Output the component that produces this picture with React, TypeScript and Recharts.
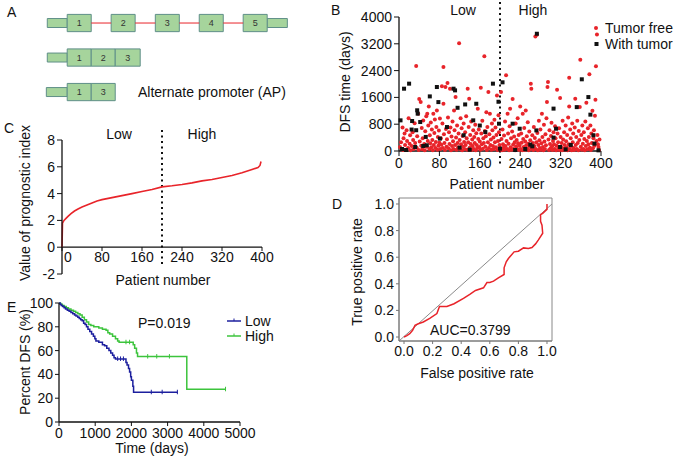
import React from 'react'
import {
  ComposedChart,
  ScatterChart,
  Scatter,
  Line,
  XAxis,
  YAxis,
  ReferenceLine,
  ReferenceArea,
} from 'recharts'

const FONT = '"Liberation Sans", Arial, sans-serif'
const RED = '#e8242a'
const INK = '#111'
const FS = 14

// ---- panel A: transcript structures (exon units) ----
const fullExons = [
  { label: '1', start: 0, end: 1 },
  { label: '2', start: 1.83, end: 2.83 },
  { label: '3', start: 3.67, end: 4.67 },
  { label: '4', start: 5.5, end: 6.5 },
  { label: '5', start: 7.33, end: 8.33 },
]
const shortExons = [
  { label: '1', start: 0, end: 1 },
  { label: '2', start: 1, end: 2 },
  { label: '3', start: 2, end: 3.04 },
]
const apExons = [
  { label: '1', start: 0, end: 1 },
  { label: '3', start: 1, end: 2 },
]
const utrs = [
  { row: 0, start: -0.83, end: 0 },
  { row: 0, start: 8.33, end: 9.17 },
  { row: 1, start: -0.83, end: 0 },
  { row: 2, start: -0.87, end: 0 },
]

// ---- panel B: DFS time per patient ----
const tumorFree: [number, number][] = [
  [2,120],[4,260],[5,60],[7,700],[8,30],[9,380],[11,520],[12,180],[14,40],[15,620],[16,300],[18,90],[19,980],[21,220],[22,470],[23,20],[25,150],[27,560],[28,330],[29,60],[31,830],[32,240],[34,2540],[35,100],[36,440],[38,1110],[39,30],[40,1550],[41,280],[43,1460],[44,160],[45,690],
  [46,50],[47,380],[48,910],[50,210],[51,20],[52,590],[54,1040],[55,130],[56,1110],[57,300],[58,760],[59,1330],[60,60],[61,470],[62,230],[63,850],[64,110],[65,640],[66,330],[67,20],[68,1110],[69,180],[70,540],[71,940],[72,90],[73,270],[74,720],[75,1210],[76,40],[77,420],[78,160],[79,610],[80,250],
  [81,970],[82,60],[83,380],[84,190],[85,1930],[86,820],[87,90],[88,2510],[88,1410],[89,500],[90,240],[91,30],[92,1910],[93,660],[94,130],[95,350],[96,2030],[97,1000],[98,80],[99,560],[100,210],[101,1860],[102,700],[103,20],[104,430],[105,150],[106,880],[107,290],[108,60],[109,1210],[110,620],[111,180],[112,1610],[113,400],[114,40],[115,760],[116,240],[117,110],[118,520],[119,3220],[120,330],
  [121,60],[122,980],[123,200],[124,680],[125,20],[126,450],[127,130],[128,820],[129,270],[130,60],[131,560],[132,180],[133,1040],[134,380],[135,40],[136,1860],[137,260],[138,720],[139,1560],[140,100],[141,480],[142,210],[143,880],[144,30],[145,340],[146,150],[147,620],[148,60],[149,420],[150,240],[151,780],[152,20],[153,530],[154,180],[155,90],[156,1260],[157,360],[158,640],[159,120],[160,280],
  [161,40],[162,1890],[163,520],[164,200],[165,900],[166,70],[167,380],[168,240],[169,2830],[170,600],[171,130],[172,440],[173,1160],[174,30],[175,720],[176,260],[177,1760],[178,90],[179,500],[180,1110],[181,180],[182,340],[183,40],[184,820],[185,620],[186,150],[187,400],[188,60],[189,935],[190,260],[191,700],[192,110],[193,480],[194,1660],[195,30],[196,300],[197,1065],[198,560],[199,180],
  [201,80],[202,1760],[203,360],[204,20],[205,640],[206,200],[207,100],[208,460],[209,40],[210,880],[211,150],[212,2260],[213,300],[214,60],[215,1110],[216,520],[217,220],[218,20],[219,740],[220,1260],[221,110],[222,380],[223,40],[224,580],[225,1550],[226,190],[227,60],[228,430],[229,260],[230,20],[231,820],[232,140],[233,330],[234,60],[235,980],[236,230],[237,480],[238,30],[239,160],[240,1330],
  [241,60],[242,520],[243,250],[244,20],[245,1110],[246,360],[247,120],[248,690],[249,40],[250,280],[251,1210],[252,170],[253,440],[254,60],[255,860],[256,220],[257,20],[258,580],[259,130],[260,320],[261,2010],[262,1860],[263,70],[264,470],[265,240],[266,30],[267,720],[268,150],[269,390],[270,3420],[271,60],[272,260],[273,3470],[274,540],[275,20],[276,180],[277,900],[278,320],[279,90],[280,640],
  [281,40],[282,230],[283,1110],[284,420],[285,120],[286,20],[287,780],[288,280],[289,60],[290,500],[291,170],[292,980],[293,1460],[294,1910],[295,2060],[296,340],[297,30],[298,620],[299,210],[300,80],[301,450],[302,840],[303,140],[304,30],[305,300],[306,560],[307,200],[308,60],[309,740],[310,380],[311,20],[312,160],[313,1830],[314,520],[315,260],[316,90],[317,680],[318,30],[319,1580],[320,420],
  [321,120],[322,240],[323,20],[324,900],[325,340],[326,70],[327,560],[328,180],[329,40],[330,760],[331,290],[332,110],[333,480],[334,20],[335,1000],[336,200],[337,2190],[337,1330],[338,60],[339,640],[340,380],[341,150],[342,20],[343,820],[344,260],[345,520],[346,90],[347,30],[348,700],[349,1560],[350,180],[351,420],[352,60],[353,900],[354,240],[355,20],[356,600],[357,330],[358,1310],[359,2725],[360,130],
  [361,480],[362,40],[363,760],[364,220],[365,60],[366,560],[367,360],[368,20],[369,880],[370,150],[371,1440],[372,300],[373,50],[374,680],[375,200],[376,420],[377,2290],[378,100],[379,760],[380,30],[381,520],[382,240],[383,1200],[384,80],[385,380],[386,620],[387,160],[388,1050],[389,1530],[390,2530],[391,300],[392,3480],[393,480],[394,200],[395,120],[396,30],[397,340],
]
const withTumor: [number, number][] = [
  [3,915],[6,60],[10,1860],[14,30],[20,2010],[25,640],[26,895],[32,120],[34,620],[36,1215],[37,1115],[42,865],[48,150],[53,420],[55,170],[61,1630],[75,1910],[78,1460],[81,370],[95,715],[108,1860],[111,1810],[116,1290],[120,100],[128,470],[131,1390],[140,40],[147,915],[153,1410],[160,760],[171,565],[186,2010],[197,1470],[198,815],[200,70],[205,2050],[225,815],[230,30],[239,665],[250,60],[260,190],[264,140],[272,615],[273,3500],[306,1265],[306,400],[311,665],[319,120],[330,50],[340,180],[352,1310],[362,2140],[375,1610],[379,1085],[385,470],[387,220],[395,20],
]
const patientTicks = [0, 80, 160, 240, 320, 400]
const dfsTicks = [0, 800, 1600, 2400, 3200, 4000]

// ---- panel C: sorted prognostic index ----
const indexCurve: [number, number][] = [
  [0,0],[1,1.8],[4,2.0],[8,2.15],[12,2.3],[18,2.5],[25,2.7],[32,2.85],[40,3.0],[50,3.15],[60,3.3],[70,3.45],[80,3.55],[100,3.7],[120,3.85],[140,4.0],[160,4.15],[180,4.3],[200,4.5],[220,4.58],[240,4.68],[260,4.8],[280,4.95],[300,5.05],[320,5.2],[340,5.35],[360,5.55],[380,5.8],[392,5.95],[396,6.1],[398,6.4],
]
const indexTicks = [-2, 0, 2, 4, 6, 8]

// ---- panel D: ROC curve ----
const roc: [number, number][] = [
  [0,0],[0.02,0.01],[0.04,0.025],[0.06,0.05],[0.077,0.088],[0.1,0.1],[0.135,0.113],[0.18,0.14],[0.23,0.176],[0.248,0.23],[0.26,0.23],[0.3,0.23],[0.35,0.25],[0.416,0.29],[0.46,0.32],[0.5,0.35],[0.556,0.37],[0.58,0.41],[0.6,0.41],[0.626,0.42],[0.66,0.445],[0.7,0.47],[0.7,0.52],[0.715,0.565],[0.73,0.59],[0.77,0.64],[0.8,0.645],[0.836,0.67],[0.87,0.665],[0.895,0.673],[0.92,0.7],[0.94,0.73],[0.97,0.78],[0.965,0.84],[0.955,0.87],[0.955,0.92],[0.97,0.93],[0.99,0.95],[1.0,0.96],[1.0,1.0],
]
const rateTicks = [0, 0.2, 0.4, 0.6, 0.8, 1.0]

// ---- panel E: Kaplan-Meier DFS ----
const lowKM: [number, number][] = [
  [0,100],[30,99],[60,98],[100,97],[140,96],[180,95],[230,94],[280,93],[330,92],[380,91],[430,90],[470,89],[520,88],[560,87],[600,86],[640,85],[680,83],[720,82],[760,80],[800,78],[850,76],[900,74],[950,72],[990,70],[1020,68],[1100,67],[1200,65],[1260,64],[1320,62],[1380,60],[1430,58],[1480,56],[1520,54],[1560,53],[1850,50],[1880,48],[1920,45],[1950,42],[1980,38],[2000,35],[2040,30],[2060,25],[3280,25],
]
const highKM: [number, number][] = [
  [0,100],[40,99],[90,98],[140,97],[200,96],[260,95],[330,94],[400,93],[460,92],[520,91],[580,90],[640,88],[700,86],[760,84],[820,82],[880,81],[960,80],[1100,79],[1200,78],[1300,77],[1350,75],[1400,74],[1480,72],[1560,70],[1620,68],[1660,67],[2050,65],[2090,62],[2140,58],[2170,55],[3530,27.5],[4610,27.5],
]
const lowCensored: [number, number][] = [[1620,53],[1700,53],[1780,53],[2550,25],[2850,25],[3270,25]]
const highCensored: [number, number][] = [[1850,67],[1950,67],[2450,55],[2700,55],[3050,55],[4600,27.5]]
const timeTicks = [0, 1000, 2000, 3000, 4000, 5000]
const pctTicks = [0, 20, 40, 60, 80, 100]

const BLUE = '#1c1f9e'
const GREEN = '#3cc43c'

const tickStyle = { fill: INK, fontSize: FS, fontFamily: FONT }
const axisLine = { stroke: INK, strokeWidth: 1.3 }

const Text = ({ x, y, children, anchor = 'left' }: any) => (
  <div
    style={{
      position: 'absolute',
      left: x,
      top: y,
      transform: anchor === 'center' ? 'translate(-50%,-50%)' : 'translateY(-50%)',
      fontSize: FS,
      whiteSpace: 'nowrap',
      lineHeight: 1,
      color: INK,
    }}
  >
    {children}
  </div>
)

const VText = ({ x, y, children }: any) => (
  <div
    style={{
      position: 'absolute',
      left: x,
      top: y,
      transform: 'translate(-50%,-50%) rotate(-90deg)',
      fontSize: FS,
      whiteSpace: 'nowrap',
      lineHeight: 1,
      color: INK,
    }}
  >
    {children}
  </div>
)

const Box = ({ left, top, children }: any) => (
  <div style={{ position: 'absolute', left, top }}>{children}</div>
)

const Nothing = () => <g />

const PanelA = () => {
  const rows = [fullExons, shortExons, apExons]
  const centers = rows.flatMap((row, r) => row.map((e) => ({ x: (e.start + e.end) / 2, y: r })))
  const introns = fullExons.slice(1).map((e, i) => [fullExons[i].end, e.start])
  return (
    <ComposedChart width={320} height={110} data={centers} margin={{ top: 0, right: 0, bottom: 0, left: 0 }}>
      <XAxis type="number" dataKey="x" domain={[-2.8, 10.53]} hide />
      <YAxis type="number" dataKey="y" domain={[-0.667, 2.52]} reversed hide />
      {introns.map(([a, b], i) => (
        <ReferenceLine key={`in${i}`} segment={[{ x: a, y: 0 }, { x: b, y: 0 }]} stroke={RED} strokeWidth={1} />
      ))}
      {utrs.map((u, i) => (
        <ReferenceArea key={`u${i}`} x1={u.start} x2={u.end} y1={u.row - 0.13} y2={u.row + 0.13}
          fill="#a6d49c" fillOpacity={1} stroke="#5f8f88" strokeWidth={1} />
      ))}
      {rows.flatMap((row, r) =>
        row.map((e, i) => (
          <ReferenceArea key={`e${r}-${i}`} x1={e.start} x2={e.end} y1={r - 0.25} y2={r + 0.25}
            fill="#a6d49c" fillOpacity={1} stroke="#5f8f88" strokeWidth={1}
            label={{ value: e.label, position: 'center', fontSize: 9, fill: '#333', fontFamily: FONT }} />
        )),
      )}
      <Scatter dataKey="y" isAnimationActive={false} shape={Nothing} />
    </ComposedChart>
  )
}

const RedDot = (p: any) => <circle cx={p.cx} cy={p.cy} r={2} fill={RED} />
const BlackSquare = (p: any) => <rect x={p.cx - 2} y={p.cy - 2} width={4} height={4} fill={INK} />

const PanelB = () => {
  const free = tumorFree.map(([p, d]) => ({ p, d }))
  const tumor = withTumor.map(([p, d]) => ({ p, d }))
  return (
    <ScatterChart width={300} height={200} margin={{ top: 17, right: 29, bottom: 29, left: 9 }}>
      <XAxis type="number" dataKey="p" domain={[0, 400]} ticks={patientTicks} interval={0} height={20}
        tickSize={5} tickMargin={2} stroke={INK} axisLine={axisLine} tick={tickStyle} />
      <YAxis type="number" dataKey="d" domain={[0, 4000]} ticks={dfsTicks} interval={0} width={60}
        tickSize={5} tickMargin={2} stroke={INK} axisLine={axisLine} tick={tickStyle} />
      <ReferenceLine segment={[{ x: 200, y: 4450 }, { x: 200, y: -480 }]} ifOverflow="visible"
        stroke={INK} strokeWidth={2} strokeDasharray="2 3.5" />
      <Scatter name="Tumor free" data={free} shape={RedDot} isAnimationActive={false} />
      <Scatter name="With tumor" data={tumor} shape={BlackSquare} isAnimationActive={false} />
    </ScatterChart>
  )
}

// panel C's x axis crosses y at 0 instead of at the bottom
const CROSS = 27
const CrossTick = (props: any) => {
  const { x, y, payload } = props
  const top = y - CROSS
  return (
    <g>
      <line x1={x} x2={x} y1={top} y2={top + 4} stroke={INK} />
      <text x={payload.value === 0 ? x + 6 : x} y={top + 5} dy="0.71em" textAnchor="middle"
        fontSize={FS} fill={INK} fontFamily={FONT}>
        {payload.value}
      </text>
    </g>
  )
}

const PanelC = () => {
  const data = indexCurve.map(([p, v]) => ({ p, v }))
  return (
    <ComposedChart width={300} height={190} data={data} margin={{ top: 30, right: 38, bottom: 6, left: 12 }}>
      <XAxis type="number" dataKey="p" domain={[0, 400]} ticks={patientTicks} interval={0} height={20}
        axisLine={false} tickLine={false} tickSize={0} tickMargin={0} tick={CrossTick} />
      <YAxis type="number" dataKey="v" domain={[-2, 8]} ticks={indexTicks} interval={0} width={50}
        tickSize={5} tickMargin={2} stroke={INK} axisLine={axisLine} tick={tickStyle} />
      <ReferenceLine y={0} stroke={INK} strokeWidth={1.3} />
      <ReferenceLine segment={[{ x: 200, y: 8.75 }, { x: 200, y: -1.5 }]} ifOverflow="visible"
        stroke={INK} strokeWidth={2} strokeDasharray="2 3.5" />
      <Line dataKey="v" stroke={RED} strokeWidth={1.6} dot={false} isAnimationActive={false} />
    </ComposedChart>
  )
}

const PanelD = () => {
  const data = roc.map(([fpr, tpr]) => ({ fpr, tpr }))
  return (
    <ComposedChart width={250} height={200} data={data} margin={{ top: 8, right: 28, bottom: 29, left: 14 }}>
      <XAxis type="number" dataKey="fpr" domain={[-0.035, 1.035]} ticks={rateTicks} interval={0} height={20}
        tickFormatter={(v: number) => v.toFixed(1)} tickSize={3} tickMargin={2} stroke="#777" tick={tickStyle} />
      <YAxis type="number" dataKey="tpr" domain={[-0.03, 1.045]} ticks={rateTicks} interval={0} width={55}
        tickFormatter={(v: number) => v.toFixed(1)} tickSize={3} tickMargin={2} stroke="#777" tick={tickStyle} />
      <ReferenceArea x1={-0.035} x2={1.035} y1={-0.03} y2={1.045} fill="none" stroke="#888" strokeWidth={1} />
      <ReferenceLine segment={[{ x: -0.035, y: -0.03 }, { x: 1.035, y: 1.0 }]} stroke="#8a8a8a" strokeWidth={1} />
      <Line dataKey="tpr" stroke={RED} strokeWidth={1.5} dot={false} isAnimationActive={false} />
    </ComposedChart>
  )
}

const CensorTick = (p: any) => (
  <line x1={p.cx} x2={p.cx} y1={p.cy - 2.5} y2={p.cy + 2} stroke={p.fill} strokeWidth={1} />
)

const PanelE = () => {
  const low = lowKM.map(([t, s]) => ({ t, s }))
  const high = highKM.map(([t, s]) => ({ t, s }))
  const lowC = lowCensored.map(([t, s]) => ({ t, s }))
  const highC = highCensored.map(([t, s]) => ({ t, s }))
  return (
    <ComposedChart width={300} height={170} margin={{ top: 13, right: 60, bottom: 18, left: 9 }}>
      <XAxis type="number" dataKey="t" domain={[0, 5000]} ticks={timeTicks} interval={0} height={20}
        tickSize={4} tickMargin={2} stroke={INK} axisLine={axisLine} tick={tickStyle} />
      <YAxis type="number" dataKey="s" domain={[0, 100]} ticks={pctTicks} interval={0} width={50}
        tickSize={4} tickMargin={2} stroke={INK} axisLine={axisLine} tick={tickStyle} />
      <Line data={high} dataKey="s" type="stepAfter" stroke={GREEN} strokeWidth={1.5} dot={false} isAnimationActive={false} />
      <Line data={low} dataKey="s" type="stepAfter" stroke={BLUE} strokeWidth={1.5} dot={false} isAnimationActive={false} />
      <Scatter data={highC} dataKey="s" fill={GREEN} shape={CensorTick} isAnimationActive={false} />
      <Scatter data={lowC} dataKey="s" fill={BLUE} shape={CensorTick} isAnimationActive={false} />
    </ComposedChart>
  )
}

const LegendRow = ({ x, y, symbol, label }: any) => (
  <div style={{ position: 'absolute', left: x, top: y, transform: 'translateY(-50%)', display: 'flex', alignItems: 'center', fontSize: FS, lineHeight: 1, color: INK, whiteSpace: 'nowrap' }}>
    {symbol}
    {label}
  </div>
)

export default function App() {
  return (
    <div style={{ position: 'absolute', left: 0, top: 0, width: 677, height: 460, background: '#fff', fontFamily: FONT, overflow: 'hidden' }}>
      <Box left={0} top={0}><PanelA /></Box>
      <Box left={330} top={0}><PanelB /></Box>
      <Box left={0} top={110}><PanelC /></Box>
      <Box left={330} top={190}><PanelD /></Box>
      <Box left={0} top={290}><PanelE /></Box>

      <Text x={7} y={12}>A</Text>
      <Text x={138} y={92}>Alternate promoter (AP)</Text>

      <Text x={331} y={10}>B</Text>
      <Text x={463} y={10} anchor="center">Low</Text>
      <Text x={533} y={10} anchor="center">High</Text>
      <VText x={345} y={82}>DFS time (days)</VText>
      <Text x={497} y={184} anchor="center">Patient number</Text>
      <LegendRow x={593} y={28} label="Tumor free"
        symbol={<svg width={12} height={8}><circle cx={3} cy={4} r={2} fill={RED} /></svg>} />
      <LegendRow x={593} y={44} label="With tumor"
        symbol={<svg width={12} height={8}><rect x={1.5} y={2} width={4} height={4} fill={INK} /></svg>} />

      <Text x={4} y={128}>C</Text>
      <Text x={119} y={134} anchor="center">Low</Text>
      <Text x={202} y={134} anchor="center">High</Text>
      <VText x={25} y={203}>Value of prognostic index</VText>
      <Text x={163} y={280} anchor="center">Patient number</Text>

      <Text x={332} y={204}>D</Text>
      <VText x={357} y={272}>True positive rate</VText>
      <Text x={477} y={373} anchor="center">False positive rate</Text>
      <Text x={430} y={330}>AUC=0.3799</Text>

      <Text x={7} y={307}>E</Text>
      <Text x={138} y={323}>P=0.019</Text>
      <VText x={25} y={362}>Percent DFS (%)</VText>
      <Text x={152} y={448} anchor="center">Time (days)</Text>
      <LegendRow x={227} y={321} label="Low"
        symbol={<svg width={18} height={8}><line x1={0} x2={14} y1={4} y2={4} stroke={BLUE} strokeWidth={1.5} /><line x1={7} x2={7} y1={1.5} y2={4} stroke={BLUE} /></svg>} />
      <LegendRow x={227} y={336} label="High"
        symbol={<svg width={18} height={8}><line x1={0} x2={14} y1={4} y2={4} stroke={GREEN} strokeWidth={1.5} /><line x1={7} x2={7} y1={1.5} y2={4} stroke={GREEN} /></svg>} />
    </div>
  )
}
